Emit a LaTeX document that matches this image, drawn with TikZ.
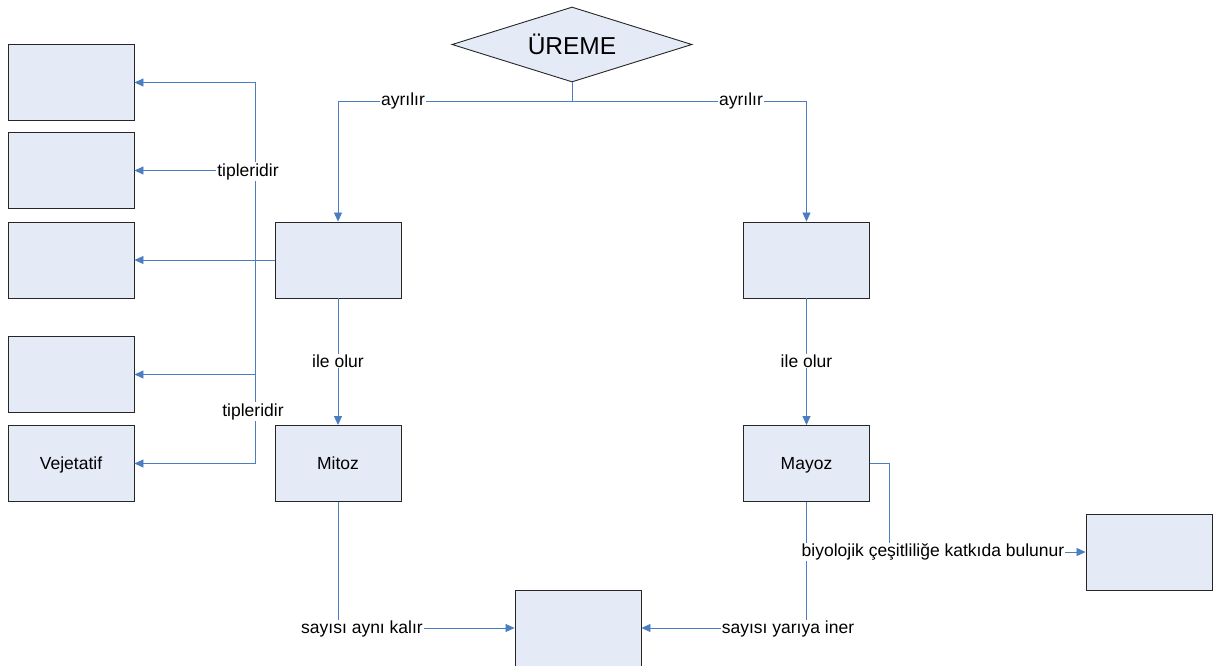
\documentclass[tikz,border=0pt]{standalone}
\usepackage{fontspec}
\setmainfont{Liberation Sans}
\usetikzlibrary{arrows.meta,shapes.geometric}
\definecolor{boxfill}{HTML}{E4EBF6}
\definecolor{linkblue}{HTML}{4A7EC1}
\tikzset{
  box/.style={draw=black!85, line width=0.9pt, fill=boxfill, minimum width=126pt,
              minimum height=76pt, inner sep=0pt, text height=12.5pt, text depth=0pt,
              font=\fontsize{17.5}{20}\selectfont},
  conn/.style={draw=linkblue, line width=0.8pt},
  arr/.style={conn, -{Triangle[length=9pt,width=8pt]}},
  lbl/.style={fill=white, inner sep=1pt, font=\fontsize{17.5}{20}\selectfont}
}
\begin{document}
\begin{tikzpicture}[x=1pt,y=1pt]
\useasboundingbox (0,0) rectangle (1213,-665);
\clip (0,0) rectangle (1213,-665);

% root
\node[diamond, draw=black!85, line width=0.9pt, fill=boxfill, aspect=3.2,
      minimum width=240pt, minimum height=75pt, inner sep=0pt,
      font=\fontsize{24.5}{28}\selectfont] (ureme) at (572,-44.5) {ÜREME};

% left column
\node[box] (l1) at (71,-82.5) {};
\node[box] (l2) at (71,-170.5) {};
\node[box] (l3) at (71,-260) {};
\node[box] (l4) at (71,-374.5) {};
\node[box] (l5) at (71,-463.5) {Vejetatif};

% main branches
\node[box] (a1) at (338,-260) {};
\node[box] (b1) at (806.5,-260) {};
\node[box] (mitoz) at (338,-463.5) {Mitoz};
\node[box] (mayoz) at (806.5,-463.5) {Mayoz};
\node[box] (res) at (578,-628) {};
\node[box] (bio) at (1149,-552) {};

% connectors
\draw[arr] (ureme.south) -- (572,-101) -| (a1.north);
\draw[arr] (ureme.south) -- (572,-101) -| (b1.north);
\draw[arr] (a1.west) -- (l3.east);
\draw[arr] (a1.west) -- (255,-260) |- (l1.east);
\draw[arr] (a1.west) -- (255,-260) |- (l2.east);
\draw[arr] (a1.west) -- (255,-260) |- (l4.east);
\draw[arr] (a1.west) -- (255,-260) |- (l5.east);
\draw[arr] (a1.south) -- (mitoz.north);
\draw[arr] (b1.south) -- (mayoz.north);
\draw[arr] (mitoz.south) |- (res.west);
\draw[arr] (mayoz.south) |- (res.east);
\draw[arr] (mayoz.east) -- (889,-463.5) |- (bio.west);

% connector labels
\node[lbl] (t1) at (403,-101) {ayrılır};
\node[lbl] (t2) at (741,-101) {ayrılır};
\node[lbl] (t3) at (248,-171.5) {tipleridir};
\node[lbl] (t4) at (253,-411.5) {tipleridir};
\node[lbl] (t5) at (338,-361) {ile olur};
\node[lbl] (t6) at (806.5,-361) {ile olur};
\node[lbl] (t7) at (362,-629) {sayısı aynı kalır};
\node[lbl] (t8) at (788,-629) {sayısı yarıya iner};
\node[lbl] (t9) at (933,-552) {biyolojik çeşitliliğe katkıda bulunur};
\end{tikzpicture}
\end{document}
